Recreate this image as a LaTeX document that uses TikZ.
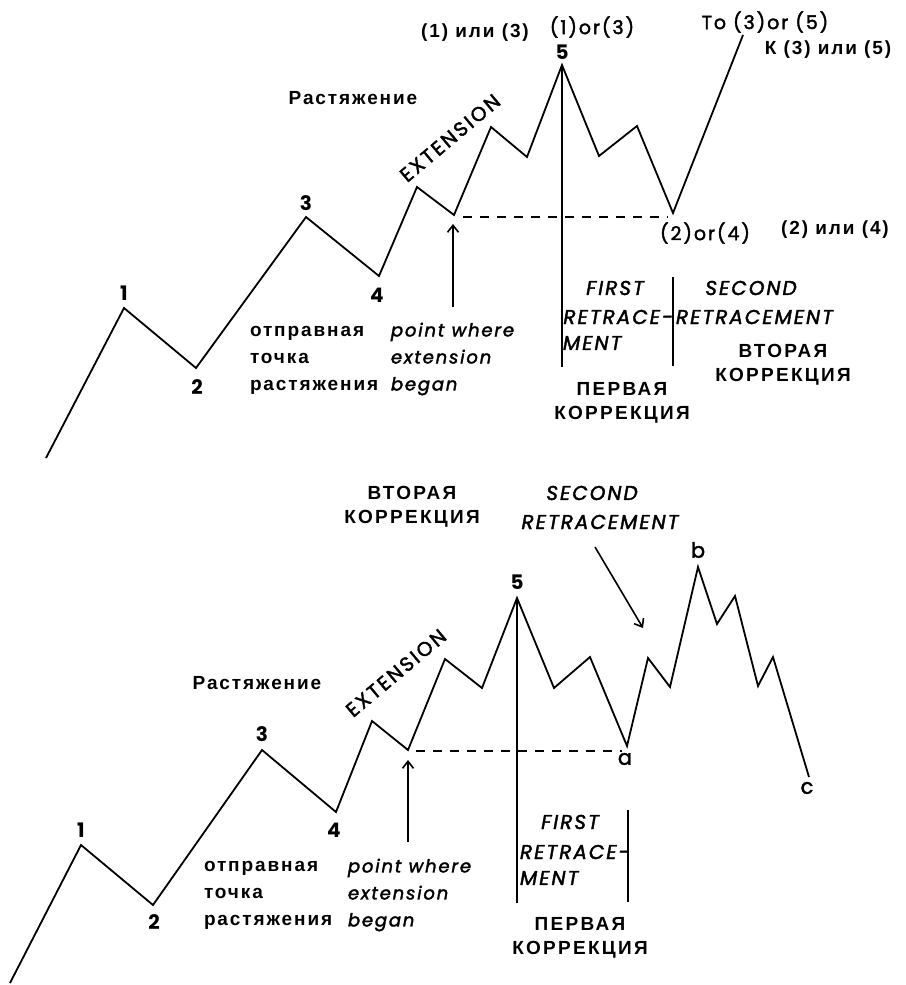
\documentclass[tikz,border=0pt]{standalone}
\usepackage{fontspec}
\setmainfont{Liberation Sans}[LetterSpace=10]
\newfontfamily\rucaps{Liberation Sans}[LetterSpace=12]
\newfontfamily\fut{Poppins}[FakeBold=2,LetterSpace=10]
\newfontfamily\futc{Poppins}[FakeBold=2,LetterSpace=10]
\newfontfamily\futx{Poppins}[FakeBold=2,LetterSpace=12]
\newfontfamily\futn{Poppins}
\usetikzlibrary{arrows.meta}
\begin{document}
\begin{tikzpicture}[x=1pt,y=-1pt,
  wave/.style={line width=1.8pt,line join=miter},
  thinline/.style={line width=1.6pt},
  dashline/.style={line width=1.3pt,dash pattern=on 9pt off 8pt},
  arr/.style={line width=1.6pt,-{Straight Barb[length=7pt,width=11pt,line width=1.6pt]}},
  lbl/.style={inner sep=0pt,outer sep=0pt},
  num/.style={lbl,font=\futn\bfseries\fontsize{20}{22}\selectfont},
  let/.style={lbl,font=\fut\fontsize{21}{22}\selectfont},
  ru/.style={lbl,font=\bfseries\fontsize{19}{24}\selectfont,align=center},
  rucap/.style={lbl,font=\rucaps\bfseries\fontsize{19}{24}\selectfont,align=center},
  rul/.style={lbl,font=\bfseries\fontsize{19}{27}\selectfont,align=left},
  en/.style={lbl,font=\fut\fontsize{19}{20}\selectfont},
  eni/.style={lbl,font=\fut\itshape\fontsize{18}{27}\selectfont,align=left},
  capit/.style={lbl,font=\futc\itshape\fontsize{20}{20}\selectfont},
  ext/.style={lbl,font=\futx\fontsize{20}{20}\selectfont,rotate=40}
]
\useasboundingbox (0,0) rectangle (905,985);
\fill[white] (0,0) rectangle (905,985);

% ---------- TOP ----------
\coordinate (t0) at (46,458);
\coordinate (t1) at (124,308);
\coordinate (t2) at (196,368);
\coordinate (t3) at (306,217);
\coordinate (t4) at (379,276);
\coordinate (t5) at (417,187);
\coordinate (t6) at (454,215);
\coordinate (t7) at (491,127);
\coordinate (t8) at (527,157);
\coordinate (t9) at (562,65);
\coordinate (t10) at (599,156);
\coordinate (t11) at (637,126);
\coordinate (t12) at (673,213);
\coordinate (t13) at (743,35);
\draw[wave] (t0)--(t1)--(t2)--(t3)--(t4)--(t5)--(t6)--(t7)--(t8)--(t9)--(t10)--(t11)--(t12)--(t13);

\coordinate (tvb) at (562,367);
\draw[thinline] (t9)--(tvb);
\coordinate (tv2a) at (673,277);
\coordinate (tv2b) at (673,366);
\draw[thinline] (tv2a)--(tv2b);
\coordinate (tda) at (463,217);
\coordinate (tdb) at (668,217);
\draw[dashline] (tda)--(tdb);
\coordinate (taa) at (453,307);
\coordinate (tab) at (453,224);
\draw[arr] (taa)--(tab);

\node[num] (n1) at (124,293) {1};
\node[num] (n2) at (197,387) {2};
\node[num] (n3) at (306,203) {3};
\node[num] (n4) at (377,295) {4};
\node[num] (n5) at (562,52) {5};

\node[ru] (t13ru) at (475,33) {(1) или (3)};
\node[en] (t13en) at (592,27) {(1)or(3)};
\node[en] (tto) at (765,22) {To (3)or (5)};
\node[ru] (tk) at (828,50) {К (3) или (5)};
\node[en] (t24en) at (705,233) {(2)or(4)};
\node[ru] (t24ru) at (835,230) {(2) или (4)};
\node[ru] (trast) at (353,98) {Растяжение};
\node[ext] (text) at (450,138) {EXTENSION};

\node[capit] (tfirst) at (615,288) {FIRST};
\node[capit,anchor=east] (tretr) at (673,317) {RETRACE-};
\node[capit,anchor=west] (tment) at (563,343) {MENT};
\node[capit] (tsec) at (751,288) {SECOND};
\node[capit,anchor=west] (tretr2) at (676,317) {RETRACEMENT};
\node[rucap] (tvtor) at (783,365) {ВТОРАЯ\\КОРРЕКЦИЯ};
\node[rucap] (tperv) at (622,403) {ПЕРВАЯ\\КОРРЕКЦИЯ};
\node[eni,anchor=west] (tpoint) at (391,359) {point where\\extension\\began};
\node[rul,anchor=west] (totpr) at (250,360) {отправная\\точка\\растяжения};

% ---------- BOTTOM ----------
\coordinate (b0) at (10,983);
\coordinate (b1) at (81,845);
\coordinate (b2) at (153,905);
\coordinate (b3) at (262,750);
\coordinate (b4) at (336,812);
\coordinate (b5) at (372,721);
\coordinate (b6) at (408,750);
\coordinate (b7) at (445,659);
\coordinate (b8) at (482,688);
\coordinate (b9) at (517,598);
\coordinate (b10) at (554,688);
\coordinate (b11) at (590,657);
\coordinate (b12) at (627,746);
\coordinate (b13) at (648,658);
\coordinate (b14) at (670,687);
\coordinate (b15) at (698,567);
\coordinate (b16) at (717,624);
\coordinate (b17) at (735,596);
\coordinate (b18) at (758,686);
\coordinate (b19) at (773,657);
\coordinate (b20) at (809,777);
\draw[wave] (b0)--(b1)--(b2)--(b3)--(b4)--(b5)--(b6)--(b7)--(b8)--(b9)--(b10)--(b11)--(b12)--(b13)--(b14)--(b15)--(b16)--(b17)--(b18)--(b19)--(b20);

\coordinate (bvb) at (517,903);
\draw[thinline] (b9)--(bvb);
\coordinate (bv2a) at (628,810);
\coordinate (bv2b) at (628,902);
\draw[thinline] (bv2a)--(bv2b);
\coordinate (bda) at (416,751);
\coordinate (bdb) at (622,751);
\draw[dashline] (bda)--(bdb);
\coordinate (baa) at (408,842);
\coordinate (bab) at (408,760);
\draw[arr] (baa)--(bab);
\coordinate (bsa) at (595,547);
\coordinate (bsb) at (643,628);
\draw[arr] (bsa)--(bsb);

\node[num] (m1) at (81,830) {1};
\node[num] (m2) at (154,922) {2};
\node[num] (m3) at (262,734) {3};
\node[num] (m4) at (334,830) {4};
\node[num] (m5) at (517,582) {5};
\node[let] (ma) at (625,759) {a};
\node[let] (mb) at (698,550) {b};
\node[let] (mc) at (807,788) {c};

\node[ru] (brast) at (257,683) {Растяжение};
\node[ext] (bext) at (396,673) {EXTENSION};
\node[rucap] (bvtor) at (412,507) {ВТОРАЯ\\КОРРЕКЦИЯ};
\node[capit] (bsec) at (592,493) {SECOND};
\node[capit] (bretr2) at (600,522) {RETRACEMENT};
\node[rul,anchor=west] (botpr) at (204,895) {отправная\\точка\\растяжения};
\node[eni,anchor=west] (bpoint) at (348,895) {point where\\extension\\began};
\node[capit] (bfirst) at (570,822) {FIRST};
\node[capit,anchor=west] (bretr) at (520,852) {RETRACE-};
\node[capit,anchor=west] (bment) at (520,878) {MENT};
\node[rucap] (bperv) at (580,938) {ПЕРВАЯ\\КОРРЕКЦИЯ};
\end{tikzpicture}
\end{document}
